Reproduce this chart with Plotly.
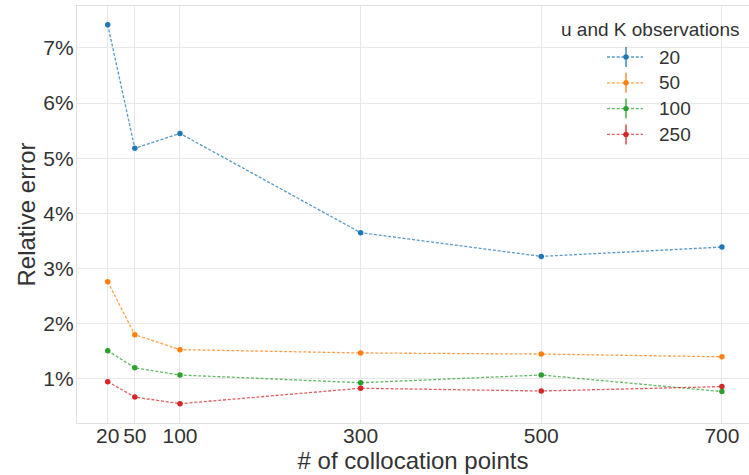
import plotly.graph_objects as go

points = [20, 50, 100, 300, 500, 700]
series_names = ["20", "50", "100", "250"]
err_20 = [7.42, 5.18, 5.45, 3.65, 3.22, 3.39]
err_50 = [2.76, 1.80, 1.53, 1.47, 1.45, 1.40]
err_100 = [1.51, 1.20, 1.07, 0.93, 1.07, 0.77]
err_250 = [0.95, 0.67, 0.55, 0.83, 0.78, 0.86]
series_vals = [err_20, err_50, err_100, err_250]
colors = ["#1f77b4", "#ff7f0e", "#2ca02c", "#d62728"]
line_colors = ["rgba(31,119,180,0.75)", "rgba(255,127,14,0.75)",
               "rgba(44,160,44,0.75)", "rgba(214,39,40,0.75)"]
x_ticks = [20, 50, 100, 300, 500, 700]
y_ticks = [1, 2, 3, 4, 5, 6, 7]
y_ticklabels = [f"{v}%" for v in y_ticks]

W, H = 749, 475
L, R, T, B = 77, 0, 6, 52
pw, ph = W - L - R, H - T - B

def px(x):
    return (x - L) / pw

def py(y):
    return (H - B - y) / ph

fig = go.Figure()
for name, vals, c, lc in zip(series_names, series_vals, colors, line_colors):
    fig.add_trace(go.Scatter(
        x=points, y=vals, name=name, mode="lines+markers",
        line=dict(color=lc, width=1.3, dash="3px,1.8px"),
        marker=dict(color=c, size=5.5, line=dict(width=0)),
        showlegend=False,
    ))

text_col = "#333333"
font = "Liberation Sans, Arial, sans-serif"

shapes = []
annotations = []
annotations.append(dict(text="u and K observations", x=px(650), y=py(30),
                        xref="paper", yref="paper", showarrow=False,
                        xanchor="center", yanchor="middle",
                        font=dict(size=19, color=text_col, family=font)))
for i, (name, c, lc) in enumerate(zip(series_names, colors, line_colors)):
    yy = 57 + i * 25.8
    shapes.append(dict(type="line", xref="paper", yref="paper",
                       x0=px(607), x1=px(643), y0=py(yy), y1=py(yy),
                       line=dict(color=lc, width=1.3, dash="3px,1.8px")))
    shapes.append(dict(type="line", xref="paper", yref="paper",
                       x0=px(626), x1=px(626), y0=py(yy - 10), y1=py(yy + 10),
                       line=dict(color=c, width=1.3)))
    shapes.append(dict(type="circle", xref="paper", yref="paper",
                       x0=px(623.3), x1=px(628.7), y0=py(yy - 2.7), y1=py(yy + 2.7),
                       fillcolor=c, line=dict(width=0)))
    annotations.append(dict(text=name, x=px(657), y=py(yy), xref="paper", yref="paper",
                            showarrow=False, xanchor="left", yanchor="middle",
                            font=dict(size=19, color=text_col, family=font)))

fig.update_layout(
    width=W, height=H,
    margin=dict(l=L, r=R, t=T, b=B),
    paper_bgcolor="white", plot_bgcolor="white",
    font=dict(family=font, color=text_col),
    shapes=shapes, annotations=annotations,
    showlegend=False,
)
fig.update_xaxes(
    range=[-14, 730], tickvals=x_ticks, ticktext=[str(v) for v in x_ticks],
    tickfont=dict(size=21, color=text_col),
    showgrid=True, gridcolor="#e8e8e8", gridwidth=1,
    showline=True, linecolor="#e0e0e0", linewidth=1.2, mirror=True,
    zeroline=False, ticks="", ticklabelstandoff=-6,
    title=dict(text="# of collocation points", font=dict(size=24, color=text_col), standoff=4),
)
fig.update_yaxes(
    range=[0.2, 7.76], tickvals=y_ticks, ticktext=y_ticklabels,
    tickfont=dict(size=21, color=text_col),
    showgrid=True, gridcolor="#e8e8e8", gridwidth=1,
    showline=True, linecolor="#e0e0e0", linewidth=1.2, mirror=True,
    zeroline=False, ticks="", ticklabelstandoff=-2,
    title=dict(text="Relative error", font=dict(size=24, color=text_col), standoff=0),
)

fig.write_html("out.html")
